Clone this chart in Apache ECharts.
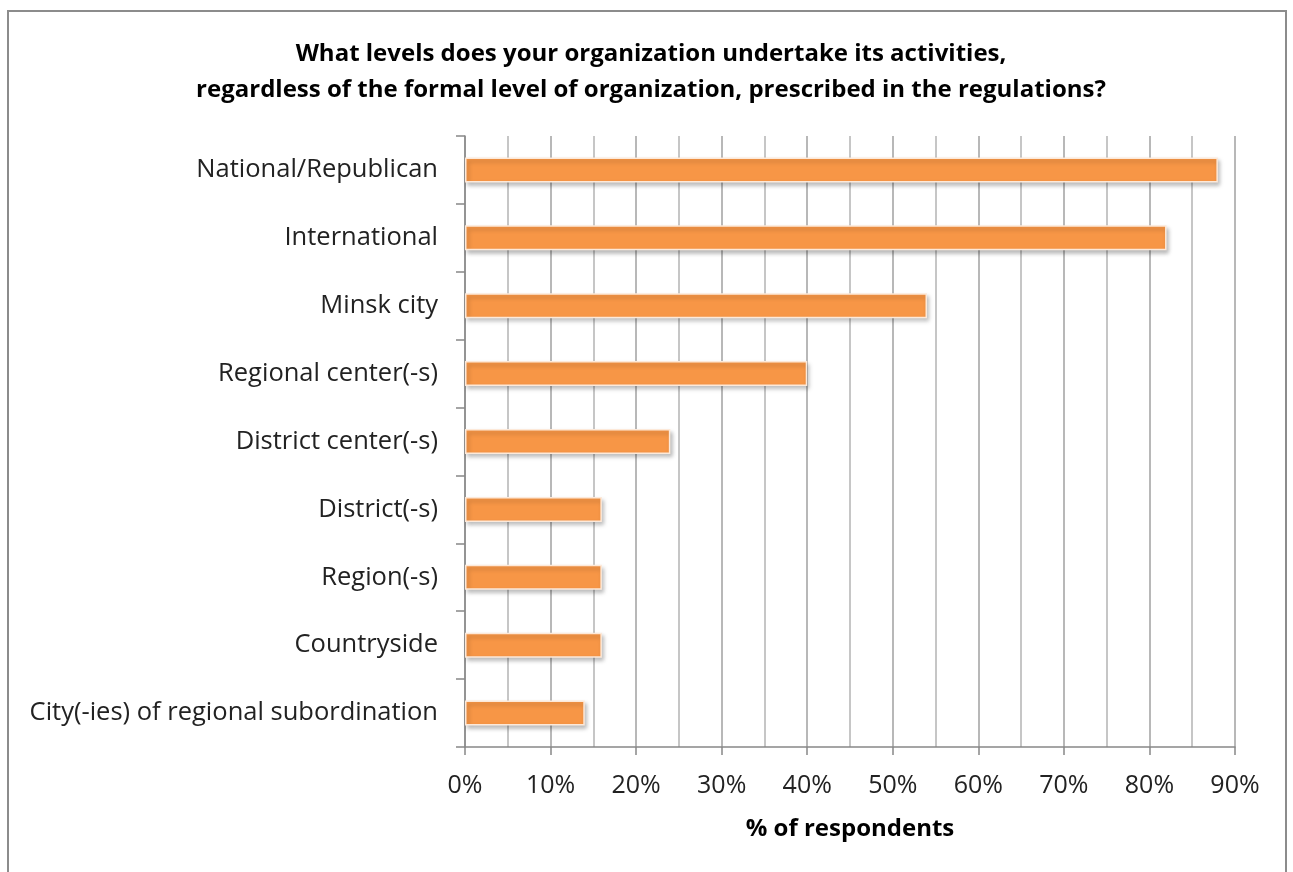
<!DOCTYPE html>
<html><head><meta charset="utf-8">
<script src="https://cdn.jsdelivr.net/npm/echarts@6/dist/echarts.min.js"></script>
<style>html,body{margin:0;padding:0;background:#fff}#c{width:1293px;height:872px}
#frame{position:absolute;left:7px;top:10px;width:1280px;height:880px;border:2px solid #8c8c8c;box-sizing:border-box;pointer-events:none}</style>
</head><body><div id="c"></div><div id="frame"></div>
<script>
const categories = ["National/Republican","International","Minsk city","Regional center(-s)","District center(-s)","District(-s)","Region(-s)","Countryside","City(-ies) of regional subordination"];
const values = [88, 82, 54, 40, 24, 16, 16, 16, 14];
const titleLines = ["What levels does your organization undertake its activities,","regardless of the formal level of organization, prescribed in the regulations?"];
const xName = "% of respondents";
const FONT = "Open Sans";
const chart = echarts.init(document.getElementById('c'));
chart.setOption({
  animation:false,
  title:{text:titleLines.join('\n'),left:646,textAlign:'center',top:31,textStyle:{fontFamily:FONT,fontSize:24,fontWeight:'bold',color:'#000',lineHeight:36}},
  grid:{left:465,right:58,top:136,bottom:125,containLabel:false},
  xAxis:{type:'value',min:0,max:90,interval:10,
    name:xName,nameLocation:'middle',nameGap:70,nameTextStyle:{fontFamily:FONT,fontSize:24,fontWeight:'bold',color:'#000'},
    axisLine:{show:true,lineStyle:{color:'#888',width:1.5}},
    axisTick:{show:true,length:8,lineStyle:{color:'#888',width:1.5}},
    axisLabel:{formatter:'{value}%',fontFamily:FONT,fontSize:25,color:'#222',margin:26},
    splitLine:{show:true,lineStyle:{color:'#a0a0a0',width:1.5}},
    minorTick:{show:false,splitNumber:2},
    minorSplitLine:{show:true,lineStyle:{color:'#b4b4b4',width:1.5}}
  },
  yAxis:{type:'category',data:categories,inverse:true,
    axisLine:{show:true,lineStyle:{color:'#888',width:1.5}},
    axisTick:{show:true,length:9,lineStyle:{color:'#888',width:1.5}},
    axisLabel:{fontFamily:FONT,fontSize:25.5,color:'#222',margin:27}
  },
  series:[{type:'bar',data:values,barWidth:25,
    itemStyle:{color:'#F79646',borderColor:'#fde9d9',borderWidth:1.5,shadowColor:'rgba(0,0,0,0.25)',shadowBlur:4,shadowOffsetX:2,shadowOffsetY:3}}]
});
</script></body></html>
